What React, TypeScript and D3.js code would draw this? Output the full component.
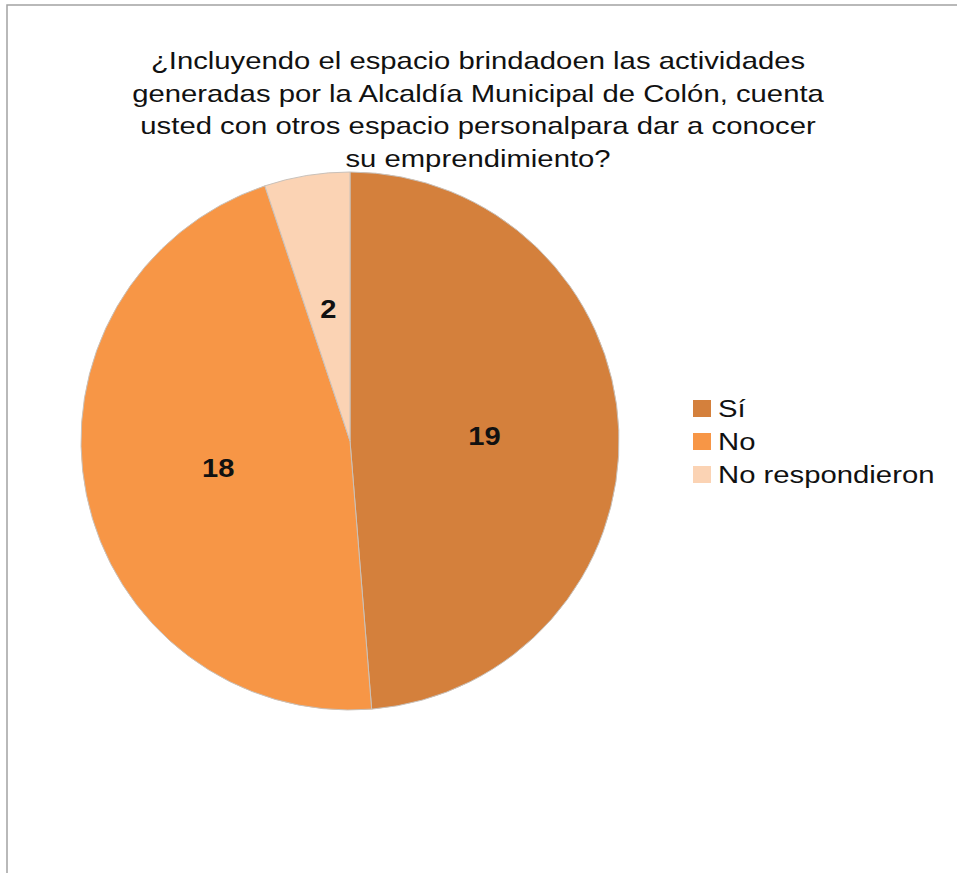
import React from "react";
import * as d3 from "d3";

const categories = ["Sí", "No", "No respondieron"];
const values = [19, 18, 2];
const colors = ["#D4803C", "#F79646", "#FBD3B4"];
const titleLines = [
  "¿Incluyendo el espacio brindadoen las actividades",
  "generadas por la Alcaldía Municipal de Colón, cuenta",
  "usted con otros espacio personalpara dar a conocer",
  "su emprendimiento?",
];

const W = 957;
const H = 873;
const FONT = "'Liberation Sans', Arial, Helvetica, sans-serif";
const SX = 1.22;

export default function App() {
  const cx = 350;
  const cy = 441;
  const R = 269;
  const pie = d3.pie<number>().sort(null).value((d) => d)(values);
  const arc = d3.arc<d3.PieArcDatum<number>>().innerRadius(0).outerRadius(R);
  const labelArc = d3
    .arc<d3.PieArcDatum<number>>()
    .innerRadius(R * 0.5)
    .outerRadius(R * 0.5);
  const color = d3.scaleOrdinal<string, string>().domain(categories).range(colors);

  return (
    <div style={{ position: "absolute", left: 0, top: 0 }}>
      <svg width={W} height={H} style={{ display: "block", background: "#fff" }}>
        <rect x={7} y={5} width={1000} height={1000} fill="#fff" stroke="#a3a3a3" strokeWidth={1.5} />
        <g fontFamily={FONT} fill="#111" fontSize={24} textAnchor="middle">
          {titleLines.map((t, i) => (
            <text key={i} transform={`translate(478,${69 + i * 32.5}) scale(${SX},1)`}>
              {t}
            </text>
          ))}
        </g>
        <g transform={`translate(${cx},${cy})`}>
          {pie.map((d, i) => (
            <path
              key={i}
              d={arc(d) || ""}
              fill={color(categories[i])}
              stroke="#c9c1ba"
              strokeWidth={1}
            />
          ))}
          {pie.map((d, i) => {
            const [x, y] = labelArc.centroid(d);
            return (
              <text
                key={"l" + i}
                transform={`translate(${x},${y}) scale(1.12,1)`}
                dy="0.36em"
                textAnchor="middle"
                fontFamily={FONT}
                fontWeight="bold"
                fontSize={26}
                fill="#111"
              >
                {values[i]}
              </text>
            );
          })}
        </g>
        <g fontFamily={FONT} fontSize={24} fill="#111">
          {categories.map((c, i) => (
            <g key={c} transform={`translate(693,${400 + i * 33})`}>
              <rect x={0} y={0} width={18} height={17} fill={color(c)} />
              <text transform={`translate(25,17) scale(${SX},1)`}>{c}</text>
            </g>
          ))}
        </g>
      </svg>
    </div>
  );
}
